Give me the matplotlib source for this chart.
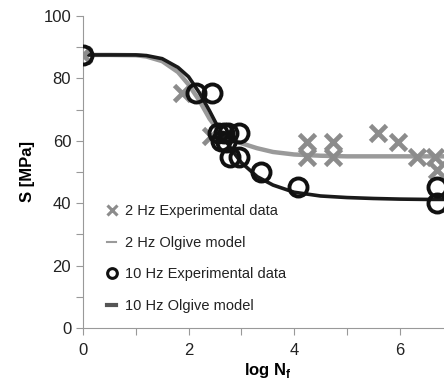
import matplotlib
matplotlib.use("Agg")
import matplotlib.pyplot as plt
from matplotlib.ticker import MultipleLocator
from matplotlib.lines import Line2D

plt.rcParams['font.family'] = ['Liberation Sans', 'DejaVu Sans']

# 2 Hz experimental data
x2_exp = [0.0, 1.87, 2.42, 4.24, 4.24, 4.74, 4.74, 5.59, 5.97, 6.32, 6.67, 6.70]
y2_exp = [87.5, 75.2, 61.5, 59.7, 54.9, 59.7, 54.9, 62.6, 59.7, 54.9, 54.9, 50.6]

# 10 Hz experimental data
x10_exp = [0.0, 2.15, 2.44, 2.55, 2.62, 2.68, 2.75, 2.70, 2.95, 2.78, 2.96, 3.38, 4.08, 6.70, 6.70]
y10_exp = [87.5, 75.2, 75.2, 62.5, 60.0, 62.5, 62.5, 59.5, 62.5, 54.9, 54.9, 50.1, 45.1, 45.1, 40.0]

# 2 Hz ogive model
x2_mod = [0.0, 0.5, 1.0, 1.2, 1.5, 1.8, 2.0, 2.2, 2.4, 2.6, 2.8, 3.0, 3.3, 3.6, 4.0, 4.5, 5.0, 5.5, 6.0, 6.5, 6.9]
y2_mod = [87.5, 87.5, 87.4, 87.0, 85.5, 82.0, 78.0, 73.0, 67.0, 62.5, 60.5, 59.2, 57.6, 56.4, 55.6, 55.2, 55.0, 55.0, 55.0, 55.0, 55.0]

# 10 Hz ogive model
x10_mod = [0.0, 0.5, 1.0, 1.2, 1.5, 1.8, 2.0, 2.2, 2.4, 2.6, 2.8, 3.0, 3.3, 3.6, 4.0, 4.5, 5.0, 5.5, 6.0, 6.5, 6.9]
y10_mod = [87.5, 87.5, 87.5, 87.3, 86.3, 83.5, 80.5, 75.5, 69.5, 63.0, 57.5, 53.0, 48.5, 45.8, 43.5, 42.3, 41.8, 41.5, 41.3, 41.2, 41.2]

fig = plt.figure(figsize=(4.44, 3.79), dpi=100)
ax = fig.add_axes([0.187, 0.1346, 0.832, 0.8234])

gray_line = '#9a9a9a'
ax.plot(x2_mod, y2_mod, color=gray_line, lw=3.2, solid_capstyle='butt', zorder=2)
ax.plot(x10_mod, y10_mod, color='#1a1a1a', lw=2.6, solid_capstyle='butt', zorder=3)
ax.plot(x2_exp, y2_exp, linestyle='none', marker='x', ms=11, mew=3.4, color='#8c8c8c', zorder=4)
ax.plot(x10_exp, y10_exp, linestyle='none', marker='o', ms=13, mew=2.8, mfc='none', mec='#111111', zorder=5)

ax.set_xlim(0, 7)
ax.set_ylim(0, 100)
ax.xaxis.set_major_locator(MultipleLocator(2))
ax.xaxis.set_minor_locator(MultipleLocator(1))
ax.yaxis.set_major_locator(MultipleLocator(20))
ax.yaxis.set_minor_locator(MultipleLocator(10))

for s in ['top', 'right']:
    ax.spines[s].set_visible(False)
for s in ['left', 'bottom']:
    ax.spines[s].set_color('#999999')
    ax.spines[s].set_linewidth(0.8)

ax.tick_params(which='both', direction='out', length=5, width=0.8, color='#999999',
               labelsize=12, labelcolor='#222222')
ax.tick_params(axis='x', pad=6)

ax.set_xlabel(r'log N$_\mathregular{f}$', fontsize=12, fontweight='bold', labelpad=2)
ax.set_ylabel('S [MPa]', fontsize=12, fontweight='bold', labelpad=6)

handles = [
    Line2D([], [], linestyle='none', marker='x', ms=7, mew=2.2, color='#8c8c8c'),
    Line2D([], [], color='#9a9a9a', lw=1.5),
    Line2D([], [], linestyle='none', marker='o', ms=7, mew=2.2, mfc='none', mec='#111111'),
    Line2D([], [], color='#555555', lw=3),
]
labels = ['2 Hz Experimental data', '2 Hz Olgive model',
          '10 Hz Experimental data', '10 Hz Olgive model']
leg = ax.legend(handles, labels, loc='upper left', bbox_to_anchor=(0.05, 0.415),
                frameon=False, fontsize=10.5, labelspacing=1.2, handlelength=0.6,
                handletextpad=0.6, borderaxespad=0.0)
for t in leg.get_texts():
    t.set_color('#222222')

fig.savefig('out.png', dpi=100)
